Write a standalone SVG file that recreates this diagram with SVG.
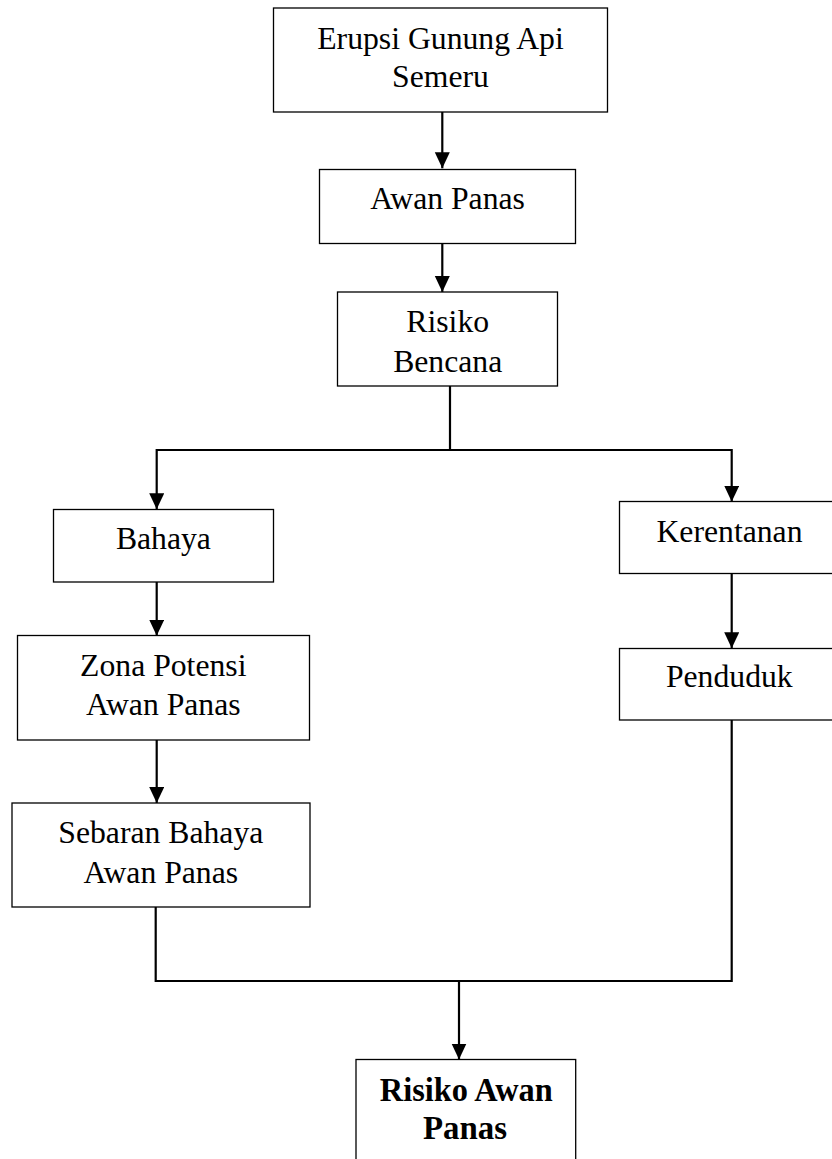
<svg xmlns="http://www.w3.org/2000/svg" width="832" height="1159" viewBox="0 0 832 1159">
<style>
.box{fill:#fff;stroke:#000;stroke-width:1.3}
.t{font-family:"Liberation Serif","Times New Roman",serif;font-size:31.7px;fill:#000;text-anchor:middle}
.b{font-weight:bold;font-size:33px}
.c{fill:none;stroke:#000;stroke-width:2.2}
</style>
<defs>
<marker id="ah" markerUnits="userSpaceOnUse" markerWidth="16" markerHeight="16" refX="16" refY="7.5" orient="auto">
<path d="M0,0 L16,7.5 L0,15 z" fill="#000"/>
</marker>
</defs>
<rect width="832" height="1159" fill="#fff"/>
<g id="connectors">
<path class="c" d="M442.3,112 V168.3" marker-end="url(#ah)"/>
<path class="c" d="M442.3,243.7 V292" marker-end="url(#ah)"/>
<path class="c" d="M450,386 V450 M156.7,450 H731.7"/>
<path class="c" d="M156.7,449 V509.3" marker-end="url(#ah)"/>
<path class="c" d="M731.7,449 V501.7" marker-end="url(#ah)"/>
<path class="c" d="M156.7,582 V635.7" marker-end="url(#ah)"/>
<path class="c" d="M156.7,740 V803" marker-end="url(#ah)"/>
<path class="c" d="M731.7,573.7 V648.3" marker-end="url(#ah)"/>
<path class="c" d="M155.7,906.7 V981 H731.7 V720"/>
<path class="c" d="M459,981 V1059.5" marker-end="url(#ah)"/>
</g>
<g id="erupsi">
<rect class="box" x="273.5" y="8" width="334" height="104"/>
<text class="t" x="440.5" y="49.3">Erupsi Gunung Api</text>
<text class="t" x="440.5" y="87.3">Semeru</text>
</g>
<g id="awan-panas">
<rect class="box" x="319.5" y="169.5" width="256" height="74"/>
<text class="t" x="447.6" y="209.3">Awan Panas</text>
</g>
<g id="risiko-bencana">
<rect class="box" x="337.5" y="292" width="220" height="94"/>
<text class="t" x="447.7" y="331.7">Risiko</text>
<text class="t" x="447.7" y="371.7">Bencana</text>
</g>
<g id="bahaya">
<rect class="box" x="53.5" y="509.5" width="220" height="72.5"/>
<text class="t" x="163.4" y="549.3">Bahaya</text>
</g>
<g id="zona-potensi">
<rect class="box" x="17.5" y="635.5" width="292" height="104.5"/>
<text class="t" x="163.3" y="676">Zona Potensi</text>
<text class="t" x="163.3" y="715">Awan Panas</text>
</g>
<g id="sebaran-bahaya">
<rect class="box" x="12" y="803" width="298" height="104"/>
<text class="t" x="160.8" y="843.3">Sebaran Bahaya</text>
<text class="t" x="160.8" y="882.7">Awan Panas</text>
</g>
<g id="kerentanan">
<rect class="box" x="619.5" y="501.5" width="221" height="72"/>
<text class="t" x="729.5" y="542.3">Kerentanan</text>
</g>
<g id="penduduk">
<rect class="box" x="619.5" y="648.5" width="221" height="71.5"/>
<text class="t" x="729.3" y="687.3">Penduduk</text>
</g>
<g id="risiko-awan-panas">
<rect class="box" x="356" y="1059.5" width="219.7" height="110"/>
<text class="t b" x="466.3" y="1101" textLength="173" lengthAdjust="spacingAndGlyphs">Risiko Awan</text>
<text class="t b" x="465" y="1139.3" textLength="84" lengthAdjust="spacingAndGlyphs">Panas</text>
</g>
</svg>
